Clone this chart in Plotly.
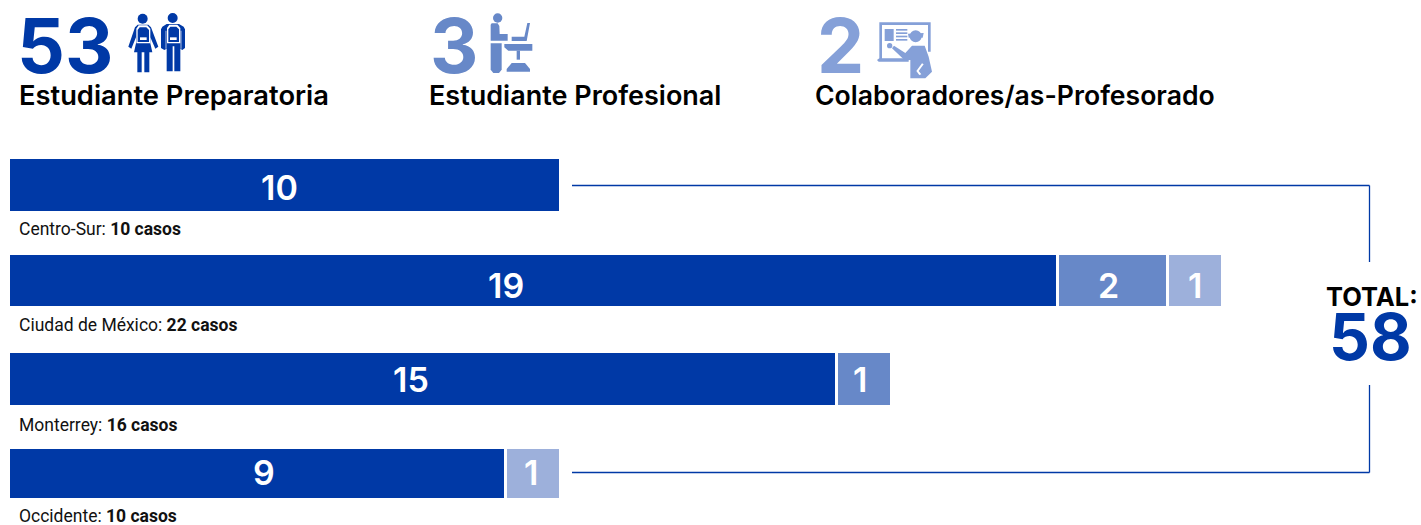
import plotly.graph_objects as go

W, H = 1421, 525
DARK = "#0039A6"
MID = "#6788C8"
LIGHT = "#9DB0DB"
ICON2 = "#85A0D8"

regions = ["Centro-Sur", "Ciudad de México", "Monterrey", "Occidente"]
preparatoria = [10, 19, 15, 9]
profesional = [None, 2, 1, None]
colaboradores = [None, 1, None, 1]
totals = [10, 22, 16, 10]
summary_values = [53, 3, 2]
summary_labels = ["Estudiante Preparatoria", "Estudiante Profesional", "Colaboradores/as-Profesorado"]
grand_total = 58

UNIT = 55.2
X0 = 9
ROW = 96.0
Y_TOP = 185 - ROW / 2
BAR_TOPS = [159, 255, 353, 449]
BAR_BOTTOMS = [211, 306, 405, 498]

HEAD = "Inter"
NARROW = "Roboto"


def px(x):
    return x / W


def py(y):
    return 1 - y / H


def poly(points):
    s = " L ".join(f"{px(x):.5f},{py(y):.5f}" for x, y in points)
    return f"M {s} Z"


shapes = []


def fill(points, color):
    shapes.append(dict(type="path", xref="paper", yref="paper", path=poly(points), fillcolor=color, line=dict(width=0), layer="above"))


def circle(cx, cy, r, color):
    shapes.append(dict(type="circle", xref="paper", yref="paper", x0=px(cx - r), x1=px(cx + r), y0=py(cy + r), y1=py(cy - r), fillcolor=color, line=dict(width=0), layer="above"))


def seg(x0, y0, x1, y1, color, w):
    shapes.append(dict(type="line", xref="paper", yref="paper", x0=px(x0), x1=px(x1), y0=py(y0), y1=py(y1), line=dict(color=color, width=w), layer="above"))


def icon(ox, oy):
    """Drawing helpers for an icon sketched on a 3x grid with its origin at (ox, oy)."""
    def z(points):
        return [(ox + a / 3, oy + b / 3) for a, b in points]

    def f(points, color):
        fill(z(points), color)

    def c(a, b, r, color):
        circle(ox + a / 3, oy + b / 3, r / 3, color)
    return f, c


# connector lines
seg(572, 185.5, 1369.5, 185.5, DARK, 1.3)
seg(1369.5, 185.5, 1369.5, 262, DARK, 1.3)
seg(1369.5, 385, 1369.5, 472.5, DARK, 1.3)
seg(1369.5, 472.5, 572, 472.5, DARK, 1.3)

# student icons
f, c = icon(125, 8)
W_ = "white"
c(53, 32, 15, DARK)
f([(38, 50), (70, 50), (78, 58), (100, 116), (91, 122), (76, 88), (76, 106), (82, 133), (73, 133), (73, 193), (58, 193), (58, 133), (50, 133), (50, 193), (37, 193), (37, 133), (27, 133), (33, 106), (33, 88), (19, 122), (10, 116), (30, 58)], DARK)
f([(41, 52), (67, 52), (76, 62), (76, 106), (34, 106), (34, 62)], W_)
f([(44, 58), (64, 58), (72, 66), (72, 102), (38, 102), (38, 66)], DARK)
f([(45, 88), (65, 88), (65, 96), (45, 96)], W_)
c(143, 30, 15, DARK)
f([(125, 48), (162, 48), (176, 56), (180, 64), (180, 120), (172, 126), (166, 122), (166, 190), (148, 190), (148, 115), (143, 115), (143, 190), (125, 190), (125, 122), (118, 126), (108, 120), (108, 64), (112, 56)], DARK)
f([(122, 68), (124, 68), (124, 122), (122, 122)], W_)
f([(167, 68), (169, 68), (169, 122), (167, 122)], W_)
f([(133, 50), (157, 50), (166, 60), (166, 106), (126, 106), (126, 60)], W_)
f([(136, 56), (154, 56), (162, 64), (162, 102), (130, 102), (130, 64)], DARK)
f([(135, 88), (155, 88), (155, 96), (135, 96)], W_)

# desk icon
f, c = icon(485, 8)
c(38, 30, 14, MID)
f([(20, 46), (38, 46), (43, 54), (44, 78), (68, 78), (68, 98), (17, 98), (17, 50)], MID)
f([(17, 106), (50, 106), (50, 185), (42, 195), (25, 195), (17, 185)], MID)
f([(80, 86), (118, 86), (127, 45), (135, 45), (125, 99), (80, 99)], MID)
f([(58, 108), (142, 108), (142, 128), (70, 128), (58, 118)], MID)
f([(95, 128), (105, 128), (105, 155), (95, 155)], MID)
f([(80, 165), (120, 165), (135, 183), (135, 191), (65, 191), (65, 183)], MID)

# teacher icon
f, c = icon(872, 15)
C = ICON2
f([(22, 22), (176, 22), (176, 110), (168, 110), (168, 30), (30, 30), (30, 130), (110, 130), (110, 140), (20, 140), (15, 135), (22, 130)], C)
f([(38, 42), (65, 42), (65, 78), (38, 78)], C)
for yy in (42, 52, 62, 72):
    f([(72, yy), (106, yy), (106, yy + 5), (72, yy + 5)], C)
c(131, 64, 18, C)
f([(108, 56), (155, 54), (152, 68), (110, 68)], C)
c(53, 92, 8, C)
f([(60, 100), (66, 92), (100, 114), (120, 92), (158, 92), (170, 125), (180, 170), (160, 190), (115, 190), (115, 135), (98, 136)], C)
f([(150, 145), (155, 148), (140, 168), (148, 178), (142, 180), (133, 168)], "white")

fig = go.Figure()
fig.add_bar(name="Estudiante Preparatoria", y=regions, x=preparatoria, marker_color=DARK)
fig.add_bar(name="Estudiante Profesional", y=regions, x=profesional, marker_color=MID)
fig.add_bar(name="Colaboradores/as-Profesorado", y=regions, x=colaboradores, marker_color=LIGHT)

# per-row band height and offset, expressed in category units
widths = [(b - t + 3) / ROW for t, b in zip(BAR_TOPS, BAR_BOTTOMS)]
offsets = [((t - 1.5) - (Y_TOP + (i + 0.5) * ROW)) / ROW for i, t in enumerate(BAR_TOPS)]
fig.update_traces(orientation="h", width=widths, offset=offsets, marker_line=dict(color="white", width=3))

ann = []


def label(x, y, text, size, color="black", family=HEAD, weight=600, anchor="left"):
    ann.append(dict(xref="paper", yref="paper", x=px(x), y=py(y), text=text, showarrow=False, xanchor=anchor, yanchor="middle",
                    font=dict(family=family, size=size, color=color, weight=weight)))


# value labels inside the bars, as they sit in the reference
prep_label_x = [279, 505.5, 411, 264]
prof_label_x = [None, 1108, 860, None]
cola_label_x = [None, 1195, None, 531]
label_row_y = [187, 285, 379, 472]
for series, xs in ((preparatoria, prep_label_x), (profesional, prof_label_x), (colaboradores, cola_label_x)):
    for v, x, y in zip(series, xs, label_row_y):
        if v is not None:
            label(x, y, str(v), 34, "white", HEAD, 600, "center")

num_colors = [DARK, MID, ICON2]
num_x = [15, 428, 815]
lab_x = [17, 427, 813]
lab_size = [27.3, 27, 26.6]
for i in range(3):
    label(num_x[i], 45, str(summary_values[i]), 75, num_colors[i], weight=700)
    label(lab_x[i], 95, summary_labels[i], lab_size[i])

label_y = [229, 325, 425, 516]
for r, t, yy in zip(regions, totals, label_y):
    label(16.5, yy, f"{r}: <b>{t} casos</b>", 17.5, "#111111", NARROW, 400)

label(1324, 296, "TOTAL:", 25.5, "black", HEAD, 700)
label(1327, 336, str(grand_total), 64, DARK, HEAD, 700)

fig.update_layout(
    width=W, height=H, barmode="stack", showlegend=False, bargap=0,
    margin=dict(l=0, r=0, t=0, b=0),
    paper_bgcolor="white", plot_bgcolor="white",
    xaxis=dict(domain=[X0 / W, 1], range=[0, (W - X0) / UNIT], visible=False),
    yaxis=dict(domain=[1 - (Y_TOP + 4 * ROW) / H, 1 - Y_TOP / H], autorange="reversed", categoryorder="array", categoryarray=regions, visible=False),
    shapes=shapes, annotations=ann,
)
fig.write_html("out.html", config={"displayModeBar": False}, post_script="document.body.style.margin='0';")
